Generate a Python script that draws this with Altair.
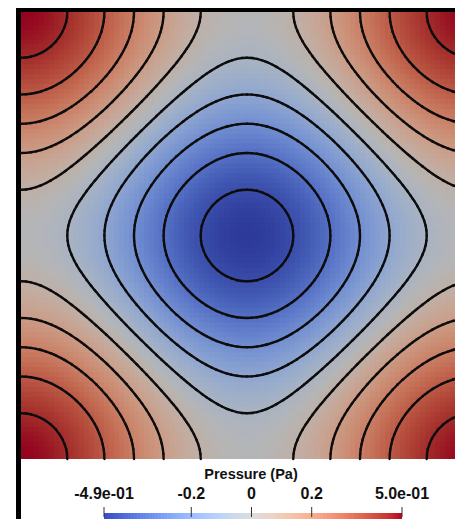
import altair as alt
import pandas as pd

# ---------------- data ----------------
# pressure profile along one axis (the field is the sum of the x- and y-profiles)
prof_half = [0.2500, 0.2494, 0.2476, 0.2445, 0.2403, 0.2349, 0.2284, 0.2207, 0.2120,
             0.2023, 0.1915, 0.1798, 0.1673, 0.1539, 0.1398, 0.1250, 0.1096, 0.0937,
             0.0773, 0.0605, 0.0434, 0.0261, 0.0087, -0.0087, -0.0261, -0.0434, -0.0605,
             -0.0773, -0.0937, -0.1096, -0.1250, -0.1398, -0.1539, -0.1673, -0.1798,
             -0.1915, -0.2023, -0.2120, -0.2207, -0.2284, -0.2349, -0.2403, -0.2445,
             -0.2476, -0.2494, -0.2500]
profile = prof_half + list(reversed(prof_half[:-1]))
levels = [-0.45, -0.35, -0.25, -0.15, -0.05, 0.05, 0.15, 0.25, 0.35, 0.45]
cb_ticks = [-0.49, -0.2, 0.0, 0.2, 0.5]
cb_labels = ["-4.9e-01", "-0.2", "0", "0.2", "5.0e-01"]
cb_title = "Pressure (Pa)"
p_min, p_max = -0.49, 0.5

# Cool to Warm colour map stops
coolwarm = [
    (59, 76, 192), (68, 90, 204), (77, 104, 215), (87, 117, 225), (98, 130, 234),
    (108, 142, 241), (119, 154, 247), (130, 165, 251), (141, 176, 254), (152, 185, 255),
    (163, 194, 255), (174, 201, 253), (184, 208, 249), (194, 213, 244), (204, 217, 238),
    (213, 219, 230), (221, 221, 221), (229, 216, 209), (236, 211, 197), (241, 204, 185),
    (245, 196, 173), (247, 187, 160), (247, 177, 148), (247, 166, 135), (244, 154, 123),
    (241, 141, 111), (236, 127, 99), (229, 112, 88), (222, 96, 77), (213, 80, 66),
    (203, 62, 56), (192, 40, 47), (180, 4, 38)]

# ---------------- build tables ----------------
N = len(profile)
step = 1.0 / (N - 1)
xs = [i * step for i in range(N)]

def hexc(c, f=1.0):
    return "#%02x%02x%02x" % tuple(max(0, min(255, int(round(v * f)))) for v in c)

stop_dom = [p_min + (p_max - p_min) * k / (len(coolwarm) - 1) for k in range(len(coolwarm))]
field_cols = [hexc(c, 0.82) for c in coolwarm]
bar_cols = [hexc(c) for c in coolwarm]

P = [[profile[i] + profile[j] for i in range(N)] for j in range(N)]

ov = 0.0025
rows = []
for j in range(N):
    for i in range(N):
        rows.append({
            "x": round(max(0.0, xs[i] - step / 2), 5),
            "x2": round(min(1.0, xs[i] + step / 2 + ov), 5),
            "y": round(max(0.0, xs[j] - step / 2), 5),
            "y2": round(min(1.0, xs[j] + step / 2 + ov), 5),
            "p": round(P[j][i], 5),
        })
field_df = pd.DataFrame(rows)

# contour segments by marching squares on the grid
segs = []
for lev in levels:
    c = lev + 1e-7  # avoid grid values that sit exactly on a level
    for j in range(N - 1):
        for i in range(N - 1):
            v00, v10 = P[j][i], P[j][i + 1]
            v01, v11 = P[j + 1][i], P[j + 1][i + 1]
            x0, x1, y0, y1 = xs[i], xs[i + 1], xs[j], xs[j + 1]
            pts = {}
            def cross(a, b, pa, pb):
                t = (c - a) / (b - a)
                return (pa[0] + (pb[0] - pa[0]) * t, pa[1] + (pb[1] - pa[1]) * t)
            if (v00 - c) * (v10 - c) < 0:
                pts["b"] = cross(v00, v10, (x0, y0), (x1, y0))
            if (v10 - c) * (v11 - c) < 0:
                pts["r"] = cross(v10, v11, (x1, y0), (x1, y1))
            if (v01 - c) * (v11 - c) < 0:
                pts["t"] = cross(v01, v11, (x0, y1), (x1, y1))
            if (v00 - c) * (v01 - c) < 0:
                pts["l"] = cross(v00, v01, (x0, y0), (x0, y1))
            pairs = []
            if len(pts) == 2:
                a, b = list(pts.values())
                pairs.append((a, b))
            elif len(pts) == 4:
                center = (v00 + v10 + v01 + v11) / 4
                if (center - c) * (v00 - c) > 0:
                    pairs += [(pts["b"], pts["r"]), (pts["t"], pts["l"])]
                else:
                    pairs += [(pts["b"], pts["l"]), (pts["r"], pts["t"])]
            for a, b in pairs:
                segs.append({"x": round(a[0], 5), "y": round(a[1], 5),
                             "x2": round(b[0], 5), "y2": round(b[1], 5)})
seg_df = pd.DataFrame(segs)

bstep = 0.005
bar_rows = []
v = p_min
while v < p_max - 1e-9:
    bar_rows.append({"v": round(v, 4), "v2": round(min(p_max, v + bstep * 1.4), 4),
                     "p": round(v + bstep / 2, 4)})
    v += bstep
bar_df = pd.DataFrame(bar_rows)
tick_df = pd.DataFrame({"t": cb_ticks, "label": cb_labels})
one = pd.DataFrame({"k": [0]})

# ---------------- layout (chart pixels) ----------------
W, H = 447, 511
fx = alt.Scale(domain=[0, 1], range=[13, 465], nice=False, zero=False)
fy = alt.Scale(domain=[0, 1], range=[451, 4], nice=False, zero=False)
cbx = alt.Scale(domain=[p_min, p_max], range=[96, 394], nice=False, zero=False)

frame = alt.Chart(one).mark_rect(color="black").encode(
    x=alt.value(8), x2=alt.value(W), y=alt.value(0), y2=alt.value(H))
inner = alt.Chart(one).mark_rect(color="white").encode(
    x=alt.value(13), x2=alt.value(W), y=alt.value(4), y2=alt.value(H))

field = alt.Chart(field_df).mark_rect(clip=True).encode(
    x=alt.X("x:Q", scale=fx, axis=None), x2="x2:Q",
    y=alt.Y("y:Q", scale=fy, axis=None), y2="y2:Q",
    color=alt.Color("p:Q", scale=alt.Scale(domain=stop_dom, range=field_cols,
                                           interpolate="rgb"), legend=None))

contours = alt.Chart(seg_df).mark_rule(color="#0d0d0d", strokeWidth=2.4,
                                       strokeCap="round", clip=True).encode(
    x=alt.X("x:Q", scale=fx, axis=None), x2="x2:Q",
    y=alt.Y("y:Q", scale=fy, axis=None), y2="y2:Q")

bar = alt.Chart(bar_df).mark_rect().encode(
    x=alt.X("v:Q", scale=cbx, axis=None), x2="v2:Q",
    y=alt.value(505), y2=alt.value(H),
    color=alt.Color("p:Q", scale=alt.Scale(domain=stop_dom, range=bar_cols,
                                           interpolate="rgb"), legend=None))

ticks = alt.Chart(tick_df).mark_rule(color="#333333", strokeWidth=1).encode(
    x=alt.X("t:Q", scale=cbx, axis=None), y=alt.value(499), y2=alt.value(509))

labels = alt.Chart(tick_df).mark_text(font="Liberation Sans", fontWeight="bold",
                                      fontSize=16, color="#111111",
                                      baseline="middle", align="center").encode(
    x=alt.X("t:Q", scale=cbx, axis=None), y=alt.value(486), text="label:N")

title = alt.Chart(one).mark_text(font="Liberation Sans", fontWeight="bold",
                                 fontSize=14.5, color="#111111",
                                 baseline="middle", align="center").encode(
    x=alt.value(243), y=alt.value(467), text=alt.value(cb_title))

chart = alt.layer(frame, inner, field, contours, bar, ticks, labels, title).resolve_scale(
    x="independent", y="independent", color="independent"
).properties(
    width=W, height=H, padding=0, autosize=alt.AutoSizeParams(type="none"),
    background="white"
).configure_view(stroke=None)

chart.save("out.html", embed_options={"renderer": "svg", "actions": False})
